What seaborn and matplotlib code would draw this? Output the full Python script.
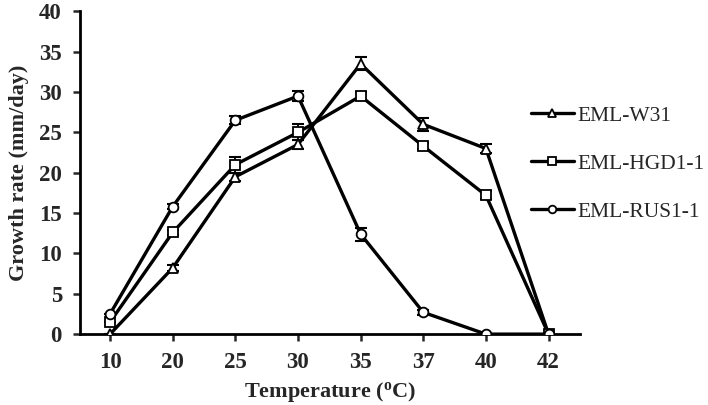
import matplotlib
matplotlib.use("Agg")
import matplotlib.pyplot as plt
import numpy as np
import pandas as pd
import seaborn as sns

temps = ["10", "20", "25", "30", "35", "37", "40", "42"]
strains = ["EML-W31", "EML-HGD1-1", "EML-RUS1-1"]
w31 = [0.0, 8.2, 19.5, 23.5, 33.5, 26.0, 23.0, 0.0]
hgd = [1.5, 12.6, 21.0, 25.0, 29.5, 23.3, 17.2, 0.0]
rus = [2.5, 15.8, 26.5, 29.5, 12.4, 2.7, 0.0, 0.0]
w31_err = [0.0, 0.4, 0.5, 0.6, 0.8, 0.8, 0.5, 0.0]
hgd_err = [0.0, 0.3, 1.0, 1.0, 0.5, 0.4, 0.5, 0.0]
rus_err = [0.0, 0.3, 0.5, 0.6, 0.8, 0.3, 0.0, 0.0]

sns.set_theme(style="ticks")
plt.rcParams["font.family"] = ["Liberation Serif", "DejaVu Serif"]

df = pd.concat([
    pd.DataFrame({"temp": temps, "rate": vals, "strain": name})
    for name, vals in zip(strains, [w31, hgd, rus])
])

fig = plt.figure(figsize=(7.08, 4.05), dpi=100)
ax = fig.add_axes([0.113, 0.175, 0.706, 0.797])

sns.lineplot(data=df, x="temp", y="rate", hue="strain", style="strain",
             palette=["black"] * 3, markers=["^", "s", "o"], dashes=False,
             linewidth=2.4, markersize=7, markerfacecolor="white",
             markeredgecolor="black", markeredgewidth=1.3, sort=False,
             ax=ax, legend=True, zorder=3)

xpos = np.arange(len(temps))
for vals, errs in zip([w31, hgd, rus], [w31_err, hgd_err, rus_err]):
    ax.errorbar(xpos, vals, yerr=errs, fmt="none", ecolor="black",
                elinewidth=1.3, capsize=4, capthick=1.5, zorder=2)

ax.set_xlim(-0.48, 7.5)
ax.set_ylim(0, 40)
ax.set_yticks(range(0, 41, 5))
ax.set_xlabel("Temperature ($\\mathregular{^{o}}$C)", fontsize=16, fontweight="bold", labelpad=5)
ax.set_ylabel("Growth rate (mm/day)", fontsize=16, fontweight="bold", labelpad=7)
for lab in ax.get_xticklabels() + ax.get_yticklabels():
    lab.set_fontweight("bold")
    lab.set_fontsize(16.5)
ax.tick_params(axis="both", direction="out", length=5, width=1.8, pad=8)
for side in ["top", "right"]:
    ax.spines[side].set_visible(False)
for side in ["left", "bottom"]:
    ax.spines[side].set_linewidth(2)
    ax.spines[side].set_color("black")

handles, labels = ax.get_legend_handles_labels()
for h in handles:
    h.set_markersize(5.5)
    h.set_linewidth(2.4)
ax.legend(handles, labels, loc="upper left", bbox_to_anchor=(0.722, 0.787),
          bbox_transform=fig.transFigure, frameon=False, fontsize=15.5,
          handlelength=2.0, handletextpad=0.2, labelspacing=1.3)

fig.savefig("out.png", dpi=100)
